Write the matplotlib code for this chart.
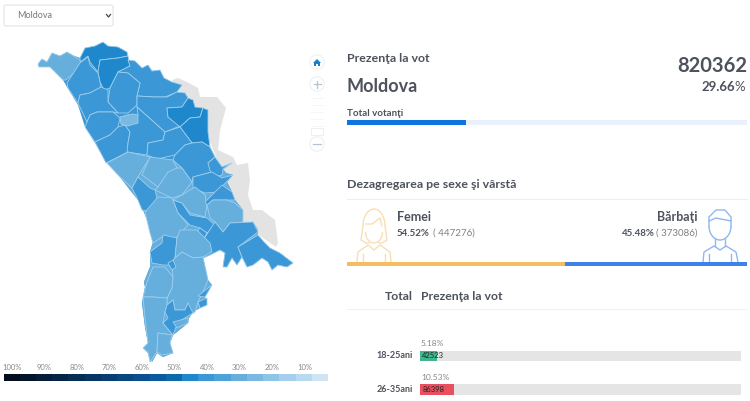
import matplotlib
matplotlib.use("Agg")
import matplotlib.pyplot as plt
from matplotlib.patches import Polygon, Circle, FancyBboxPatch, Rectangle, Arc

plt.rcParams['font.family'] = ['Lato', 'DejaVu Sans']

# ---- data ----
total_votes = "820362"
total_share = 29.66
women_share = 54.52
men_share = 45.48
women_votes = 447276
men_votes = 373086
age_groups = ["18-25ani", "26-35ani"]
age_shares = [5.18, 10.53]
age_votes = [42523, 86398]
age_colors = ["#3fb68e", "#e8505f"]

legend_labels = ["100%", "90%", "80%", "70%", "60%", "50%", "40%", "30%", "20%", "10%"]
# one cell for every 5%, from 100% down to 5%
legend_colors = ["#020e1c", "#03152a", "#041d38", "#052545", "#062d54", "#073563", "#083e72", "#094781",
                 "#0a5090", "#0b5a9f", "#0c69aa", "#1f87cb", "#3b97d5", "#4da2da", "#66aedc", "#7bb9e2",
                 "#8ec4e6", "#a5cfec", "#b8d9f0", "#cfe5f5"]

# outline of the country and the grey left bank, in screen pixels
country_outline = [(38,64),(42,59),(47,62),(52,53),(60,56),(67,52),(72,55),(80,58),(85,48),(95,46),(103,42),(108,46),
    (118,47),(127,52),(128,60),(135,61),(142,68),(148,65),(152,71),(160,70),(164,78),(172,82),(182,85),(177,92),
    (185,93),(188,98),(193,100),(195,107),(203,108),(208,110),(208,132),(210,147),(215,157),(222,167),(232,163),
    (223,169),(226,173),(233,175),(227,182),(232,192),(235,200),(243,210),(243,222),(253,222),(258,230),(258,237),
    (265,243),(270,248),(280,253),(293,263),(287,267),(278,265),(272,270),(268,262),(262,258),(253,265),(247,267),
    (242,257),(237,265),(232,258),(227,267),(223,267),(225,253),(220,250),(210,255),(203,258),(208,280),(212,285),
    (205,297),(207,305),(200,308),(193,312),(189,318),(188,323),(177,332),(173,335),(170,343),(173,353),(163,357),
    (157,353),(152,362),(148,353),(143,348),(148,343),(145,327),(142,303),(145,287),(144,282),(150,267),(150,252),
    (153,242),(150,227),(143,210),(138,200),(130,190),(120,177),(107,163),(95,143),(85,127),(78,105),(67,87),
    (63,80),(50,67),(39,67)]
left_bank = [(172,80),(178,78),(187,82),(198,88),(200,97),(217,97),(226,108),(220,130),(218,150),(233,157),(237,165),
    (248,163),(250,180),(248,195),(253,210),(262,210),(275,220),(278,243),(276,247),(263,238),(243,222),(205,130)]

# district shapes and the turnout each one is coloured by
districts = [
    ([(80,58),(85,48),(95,46),(103,42),(108,46),(118,47),(127,52),(128,56),(118,58),(100,60),(98,72),(90,62),(88,56),(80,62)], 42),
    ([(98,72),(100,60),(118,58),(128,56),(130,66),(118,72),(110,88),(104,90),(100,82)], 42),
    ([(38,64),(42,59),(47,62),(52,53),(60,56),(67,52),(72,55),(80,60),(82,70),(75,72),(66,80),(63,80),(50,67),(39,67)], 27),
    ([(67,83),(80,63),(88,57),(90,65),(98,73),(101,87),(90,93),(80,95),(78,103),(68,88)], 37),
    ([(128,60),(135,61),(142,68),(148,65),(152,71),(160,70),(164,78),(172,82),(182,85),(177,92),(165,97),(155,97),(137,96),(140,83),(128,73),(118,72),(130,66)], 37),
    ([(128,73),(140,83),(137,96),(137,105),(128,113),(118,113),(108,102),(110,88),(118,72)], 37),
    ([(78,103),(80,95),(90,93),(101,87),(108,90),(108,102),(118,113),(113,112),(97,112),(90,115),(87,122)], 37),
    ([(87,122),(90,115),(97,112),(113,112),(120,118),(118,127),(110,135),(95,142),(85,127)], 37),
    ([(95,142),(110,135),(118,127),(125,125),(130,132),(128,143),(128,152),(106,163)], 37),
    ([(137,96),(155,97),(167,97),(177,92),(185,93),(188,98),(182,107),(167,108),(168,117),(180,126),(165,132),(137,107)], 37),
    ([(137,107),(165,132),(163,140),(148,143),(147,155),(127,152),(128,143),(130,132),(125,125),(138,115)], 37),
    ([(167,108),(182,107),(188,98),(193,100),(195,107),(203,108),(200,117),(190,118),(180,127),(168,117)], 42),
    ([(180,127),(190,118),(200,117),(203,108),(208,110),(208,132),(210,147),(202,142),(192,143)], 42),
    ([(163,140),(165,132),(180,127),(192,143),(185,145),(175,155),(157,159),(147,155),(148,143)], 37),
    ([(175,155),(185,145),(192,143),(202,142),(210,147),(215,157),(208,163),(212,172),(193,177),(192,182),(182,168),(173,160)], 37),
    ([(208,163),(215,157),(222,167),(232,163),(223,169),(222,175),(212,178)], 37),
    ([(193,177),(212,172),(222,178),(233,175),(217,192),(205,193),(193,188)], 37),
    ([(107,163),(128,152),(150,157),(138,177),(132,188),(120,177)], 27),
    ([(150,157),(173,160),(177,168),(158,187),(142,175)], 27),
    ([(132,188),(138,177),(150,188),(155,190),(157,198),(152,212),(142,210),(138,200)], 37),
    ([(158,187),(168,172),(177,168),(182,168),(192,182),(182,195),(172,198),(155,190)], 27),
    ([(173,200),(182,203),(190,215),(207,218),(215,225),(207,233),(200,228),(190,225),(178,213)], 37),
    ([(182,195),(195,187),(205,195),(207,205),(205,217),(190,213),(182,203),(173,200)], 27),
    ([(205,202),(222,185),(232,192),(235,200),(227,200),(213,200),(207,205)], 37),
    ([(207,205),(213,200),(227,200),(235,203),(243,210),(243,222),(230,223),(223,232),(215,222),(210,218)], 27),
    ([(205,237),(215,222),(223,232),(230,223),(253,222),(258,232),(238,247),(242,257),(237,265),(232,258),(227,267),(223,267),(225,253),(220,250),(210,255),(203,258),(190,240),(200,228),(207,233)], 37),
    ([(238,247),(258,235),(265,243),(270,248),(280,253),(293,263),(287,267),(278,265),(272,270),(268,262),(262,258),(253,265),(247,267),(242,257)], 37),
    ([(145,212),(158,197),(172,198),(178,213),(188,225),(177,237),(173,240),(165,235),(162,237),(153,243),(150,233)], 27),
    ([(150,252),(162,243),(163,235),(177,238),(175,258),(170,265),(163,265),(152,263)], 37),
    ([(177,238),(180,230),(197,230),(210,243),(212,252),(203,257),(193,258),(182,252),(175,258)], 27),
    ([(175,258),(182,252),(193,258),(203,257),(208,280),(203,292),(198,302),(195,312),(190,315),(188,303),(185,310),(175,310),(173,300),(167,305),(167,298),(172,288),(173,277),(172,262)], 27),
    ([(143,297),(147,282),(153,267),(165,267),(173,277),(172,288),(167,298),(153,297)], 27),
    ([(143,297),(153,297),(167,298),(167,305),(165,312),(163,323),(173,335),(158,333),(157,352),(150,362),(148,352),(143,348),(148,343),(145,318)], 27),
    ([(158,333),(172,335),(170,343),(173,353),(162,355),(157,352)], 27),
    ([(167,305),(173,300),(175,310),(185,310),(188,303),(193,313),(178,322),(173,335),(163,323),(168,318),(165,312)], 37),
    ([(173,322),(188,318),(188,323),(177,328)], 27),
    ([(203,292),(212,285),(205,297),(198,296)], 37),
    ([(198,302),(207,298),(207,305),(200,308)], 37),
    ([(168,263),(173,260),(176,267),(172,270)], 37),
    ([(120,117),(127,115),(133,114),(138,115),(138,123),(128,126),(121,124)], 22),
]

W, H = 750, 401
GREY = "#4d525c"

fig = plt.figure(figsize=(W / 100, H / 100), dpi=100)

# background axes in screen pixels, for the map and all the loose text
ax = fig.add_axes([0, 0, 1, 1])
ax.set_xlim(0, W)
ax.set_ylim(H, 0)
ax.axis("off")


def pixel_axes(x0, y0, x1, y1):
    # small axes placed by screen pixels, used for the bars
    a = fig.add_axes([x0 / W, 1 - y1 / H, (x1 - x0) / W, (y1 - y0) / H])
    a.axis("off")
    a.margins(0)
    return a


def legend_color(value):
    return legend_colors[int((100 - value) / 5)]


# select box
ax.add_patch(FancyBboxPatch((4, 5), 109, 21, boxstyle="round,pad=0,rounding_size=2", fc="white", ec="#e2e4e8", lw=0.8))
ax.text(17, 15.5, "Moldova", fontsize=6.5, color="#777777", va="center")
ax.plot([106.5, 108.5, 110.5], [14.5, 17, 14.5], color="#444444", lw=0.9)

# map, gaps between the hand read districts take the colour of their neighbours
ax.add_patch(Polygon(left_bank, fc="#e3e3e3", ec="none"))
outline = Polygon(country_outline, fc=legend_color(37), ec="none")
ax.add_patch(outline)
south = Rectangle((0, 160), 330, 210, fc=legend_color(27), ec="none")
ax.add_patch(south)
south.set_clip_path(outline)
for shape, turnout in districts:
    ax.add_patch(Polygon(shape, fc=legend_color(turnout), ec="#9fcfee", lw=0.6, joinstyle="round"))

# map controls
for cy in [62, 84, 144]:
    ax.add_patch(Circle((317, cy), 7.2, fc="white", ec="#f0f0f0", lw=0.8))
ax.add_patch(Polygon([(313, 63), (317, 59), (321, 63), (320, 63), (320, 66), (318, 66), (318, 64), (316, 64), (316, 66), (314, 66), (314, 63)], fc="#1a7fc4", ec="none"))
ax.plot([313.5, 320.5], [84, 84], color="#b5c3d2", lw=0.9)
ax.plot([317, 317], [80.5, 87.5], color="#b5c3d2", lw=0.9)
ax.plot([313, 321], [144, 144], color="#b5c3d2", lw=0.9)
for ty in [98, 105, 112, 119, 126]:
    ax.plot([311, 323], [ty, ty], color="#f6f6f6", lw=0.7)
ax.add_patch(Rectangle((311, 128), 12, 7, fc="white", ec="#efefef", lw=0.7))

# colour legend
ax_leg = pixel_axes(3.5, 374, 328, 381)
ax_leg.bar(range(len(legend_colors)), [1] * len(legend_colors), width=1, color=legend_colors)
ax_leg.set_xlim(-0.5, len(legend_colors) - 0.5)
ax_leg.set_ylim(0, 1)
for i, label in enumerate(legend_labels):
    ax.text(12 + 32.5 * i, 367, label, fontsize=5.5, color="#888888", ha="center", va="center")

# total block
ax.text(347, 59, "Prezenţa la vot", fontsize=8.9, fontweight="bold", color=GREY, va="center")
ax.text(347, 86, "Moldova", fontsize=13, fontweight="bold", color=GREY, va="center")
ax.text(747, 65.5, total_votes, fontsize=14.5, fontweight="bold", color=GREY, ha="right", va="center")
ax.text(735.5, 87, "%.2f" % total_share, fontsize=9.5, fontweight="bold", color=GREY, ha="right", va="center")
ax.text(745, 87, "%", fontsize=9.5, color=GREY, ha="right", va="center")
ax.text(347, 113, "Total votanţi", fontsize=7, fontweight="bold", color=GREY, va="center")
ax_total = pixel_axes(347, 120, 747, 124.5)
ax_total.barh([0], [100], height=1, color="#e8f1fa")
ax_total.barh([0], [total_share], height=1, color="#0d74e0")
ax_total.set_xlim(0, 100)
ax_total.set_ylim(-0.5, 0.5)

# sex split
ax.text(347, 184, "Dezagregarea pe sexe şi vârstă", fontsize=8.9, fontweight="bold", color=GREY, va="center")
ax.plot([347, 747], [199, 199], color="#eeeeee", lw=0.8)
ax.text(397, 217, "Femei", fontsize=9, fontweight="bold", color=GREY, va="center")
ax.text(397, 233, "%.2f%%" % women_share, fontsize=7, fontweight="bold", color=GREY, va="center")
ax.text(433, 233, "( %d)" % women_votes, fontsize=7, color="#808080", va="center")
ax.text(697, 217, "Bărbaţi", fontsize=9, fontweight="bold", color=GREY, ha="right", va="center")
ax.text(622, 233, "%.2f%%" % men_share, fontsize=7, fontweight="bold", color=GREY, va="center")
ax.text(697, 233, "( %d)" % men_votes, fontsize=7, color="#808080", ha="right", va="center")
ax_sex = pixel_axes(347, 262, 747, 266)
ax_sex.barh([0], [women_share], height=1, color="#f5bd62")
ax_sex.barh([0], [men_share], left=[women_share], height=1, color="#3d82e8")
ax_sex.set_xlim(0, 100)
ax_sex.set_ylim(-0.5, 0.5)

# woman icon
woman = "#f8dfb3"
ax.add_patch(Arc((374, 226), 22, 34, theta1=180, theta2=360, ec=woman, lw=1))
ax.plot([363, 361, 366, 369], [226, 240, 243, 243], color=woman, lw=1)
ax.plot([385, 387, 382, 379], [226, 240, 243, 243], color=woman, lw=1)
ax.plot([366, 372, 380, 382], [224, 224, 218, 226], color=woman, lw=1)
ax.add_patch(Arc((374, 232), 17, 22, theta1=0, theta2=180, ec=woman, lw=1))
ax.plot([357, 358, 368, 374, 380, 390, 391], [262, 252, 245, 250, 245, 252, 262], color=woman, lw=1)
ax.plot([363, 363], [254, 262], color=woman, lw=1)
ax.plot([385, 385], [254, 262], color=woman, lw=1)

# man icon
man = "#8fb8ef"
ax.add_patch(Arc((720, 226), 22, 28, theta1=0, theta2=180, ec=man, lw=1))
ax.plot([709, 709, 716, 725, 731, 731], [226, 217, 210, 210, 217, 226], color=man, lw=1)
ax.plot([709, 716, 731], [221, 218, 221], color=man, lw=1)
ax.plot([703, 704, 714, 720, 726, 736, 738], [262, 252, 246, 250, 246, 252, 262], color=man, lw=1)
ax.plot([709, 709], [254, 262], color=man, lw=1)
ax.plot([731, 731], [254, 262], color=man, lw=1)
ax.plot([715, 715], [239, 246], color=man, lw=1)
ax.plot([725, 725], [239, 246], color=man, lw=1)

# age table
ax.text(413, 297, "Total", fontsize=8.8, fontweight="bold", color=GREY, ha="right", va="center")
ax.text(421, 297, "Prezenţa la vot", fontsize=8.8, fontweight="bold", color=GREY, va="center")
ax.plot([347, 747], [309, 309], color="#f0f0f0", lw=0.8)

ax_age = pixel_axes(420, 340, 741, 396)
rows = list(range(len(age_groups)))
ax_age.barh(rows, [100] * len(rows), height=0.32, color="#e5e5e5")
ax_age.barh(rows, age_shares, height=0.32, color=age_colors)
ax_age.set_xlim(0, 100)
ax_age.set_ylim(1.18, -0.47)
for i in rows:
    y = 356 + 34 * i
    ax.text(413, y, age_groups[i], fontsize=6.5, fontweight="bold", color=GREY, ha="right", va="center")
    ax.text(421, y - 12, "%.2f%%" % age_shares[i], fontsize=6, color="#888888", va="center")
    ax_age.text(0.7, i, str(age_votes[i]), fontsize=5.5, color="#222222", va="center")

fig.savefig("out.png", dpi=100, facecolor="white")
